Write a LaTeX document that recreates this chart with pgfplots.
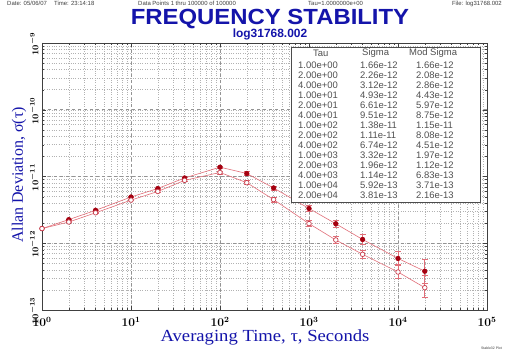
\documentclass[border=0pt]{standalone}
\usepackage{pgfplots}
\pgfplotsset{compat=1.18}
\usepackage{pgfplotstable}
\usepackage{fontspec}
\setmainfont{Liberation Serif}
\newfontfamily\hsans{Liberation Sans}
\definecolor{tblue}{RGB}{20,20,170}
\definecolor{sigred}{RGB}{165,0,15}
\definecolor{modred}{RGB}{200,60,75}
\definecolor{linered}{RGB}{225,110,120}
\definecolor{tblgray}{RGB}{80,80,80}

\pgfplotstableread{
tau sig ep em
1 1.66e-12 0 0
2 2.26e-12 0.02e-12 0.02e-12
4 3.12e-12 0.04e-12 0.04e-12
10 4.93e-12 0.08e-12 0.08e-12
20 6.61e-12 0.15e-12 0.15e-12
40 9.51e-12 0.3e-12 0.3e-12
100 1.38e-11 0.06e-11 0.06e-11
200 1.11e-11 0.07e-11 0.07e-11
400 6.74e-12 0.5e-12 0.45e-12
1000 3.32e-12 0.35e-12 0.3e-12
2000 1.96e-12 0.25e-12 0.2e-12
4000 1.14e-12 0.22e-12 0.18e-12
10000 5.92e-13 1.6e-13 1.25e-13
20000 3.81e-13 1.9e-13 1.3e-13
}\sigdata

\pgfplotstableread{
tau sig ep em
1 1.66e-12 0 0
2 2.08e-12 0.02e-12 0.02e-12
4 2.86e-12 0.04e-12 0.04e-12
10 4.43e-12 0.08e-12 0.08e-12
20 5.97e-12 0.15e-12 0.15e-12
40 8.75e-12 0.3e-12 0.3e-12
100 1.15e-11 0.06e-11 0.06e-11
200 8.08e-12 0.6e-12 0.55e-12
400 4.51e-12 0.4e-12 0.35e-12
1000 1.97e-12 0.2e-12 0.18e-12
2000 1.12e-12 0.13e-12 0.12e-12
4000 6.83e-13 1.0e-13 0.9e-13
10000 3.71e-13 1.2e-13 0.7e-13
20000 2.16e-13 1.1e-13 0.63e-13
}\moddata

\begin{document}
\begin{tikzpicture}[x=1bp,y=1bp]
\path[use as bounding box, fill=white] (0,0) rectangle (512,351);
\begin{axis}[
  at={(42bp,41bp)}, anchor=south west,
  width=445bp, height=267bp, scale only axis,
  xmode=log, ymode=log,
  xmin=1, xmax=1e5, ymin=1e-13, ymax=1e-9,
  grid=both,
  major grid style={dashed, gray!85, line width=0.6pt},
  minor grid style={dotted, gray!60, line width=0.5pt},
  axis line style={gray!50!black, line width=0.7pt},
  tick align=inside,
  major tick length=4bp, minor tick length=2.5bp,
  tick style={gray!50!black},
  xticklabel style={font=\fontsize{11.5}{12}\selectfont\boldmath, yshift=-3.5bp},
  yticklabel style={font=\fontsize{9.5}{10}\selectfont\boldmath, rotate=90, anchor=south, xshift=-1bp},
  ytick={1e-13,1e-12,1e-11,1e-10,1e-9},
  xtick={1,10,100,1000,10000,100000},
]
\addplot[linered, line width=0.6pt, mark=*, mark size=2.3bp,
  mark options={fill=sigred, draw=sigred, solid},
  error bars/.cd, y dir=both, y explicit,
  error bar style={linered, line width=0.7pt},
  error mark options={rotate=90, linered, mark size=3bp, line width=0.7pt}]
  table[x=tau, y=sig, y error plus=ep, y error minus=em] {\sigdata};
\addplot[linered, line width=0.6pt, mark=*, mark size=2.3bp,
  mark options={fill=white, draw=modred, solid, line width=0.7pt},
  error bars/.cd, y dir=both, y explicit,
  error bar style={linered, line width=0.7pt},
  error mark options={rotate=90, linered, mark size=3bp, line width=0.7pt}]
  table[x=tau, y=sig, y error plus=ep, y error minus=em] {\moddata};
\end{axis}

% legend table
\draw[gray!60!black, fill=white, line width=0.6pt] (291,149) rectangle (480,304);
\begin{scope}[every node/.style={font=\hsans\fontsize{9.5}{10}\selectfont, text=tblgray, inner sep=0pt, anchor=west}]
\node at (313,298) {Tau};
\node at (362,298) {Sigma};
\node at (409,298) {Mod Sigma};
\foreach \i/\a/\b/\c in {
 0/1.00e+00/1.66e-12/1.66e-12,
 1/2.00e+00/2.26e-12/2.08e-12,
 2/4.00e+00/3.12e-12/2.86e-12,
 3/1.00e+01/4.93e-12/4.43e-12,
 4/2.00e+01/6.61e-12/5.97e-12,
 5/4.00e+01/9.51e-12/8.75e-12,
 6/1.00e+02/1.38e-11/1.15e-11,
 7/2.00e+02/1.11e-11/8.08e-12,
 8/4.00e+02/6.74e-12/4.51e-12,
 9/1.00e+03/3.32e-12/1.97e-12,
 10/2.00e+03/1.96e-12/1.12e-12,
 11/4.00e+03/1.14e-12/6.83e-13,
 12/1.00e+04/5.92e-13/3.71e-13,
 13/2.00e+04/3.81e-13/2.16e-13}{
  \node at (298,286-10*\i) {\a};
  \node at (360,286-10*\i) {\b};
  \node at (416,286-10*\i) {\c};
}
\end{scope}

% titles
\node[text=tblue, font=\hsans\bfseries\fontsize{22}{22}\selectfont, inner sep=0pt, xscale=1.09, anchor=base] at (270,326.5) {FREQUENCY STABILITY};
\node[text=tblue, font=\hsans\bfseries\fontsize{12}{12}\selectfont, inner sep=0pt, anchor=base] at (270,313.3) {log31768.002};
\node[text=tblue, font=\fontsize{16}{16}\selectfont, inner sep=0pt, rotate=90] at (19,176) {Allan Deviation, σ(τ)};
\node[text=tblue, font=\fontsize{17}{17}\selectfont, inner sep=0pt, xscale=1.1] at (265,14) {Averaging Time, τ, Seconds};

% header
\begin{scope}[every node/.style={font=\hsans\fontsize{6}{7}\selectfont, text=black!75, inner sep=0pt, anchor=base west}]
\node at (7,345.3) {Date: 05/06/07\hspace{1.2em}Time: 23:14:18};
\node at (138,345.3) {Data Points 1 thru 100000 of 100000};
\node at (308,345.3) {Tau=1.0000000e+00};
\node[anchor=base east] at (502,345.3) {File: log31768.002};
\node[anchor=base east, font=\hsans\fontsize{3.5}{4}\selectfont] at (502,2) {Stable32 Plot};
\end{scope}
\end{tikzpicture}
\end{document}
